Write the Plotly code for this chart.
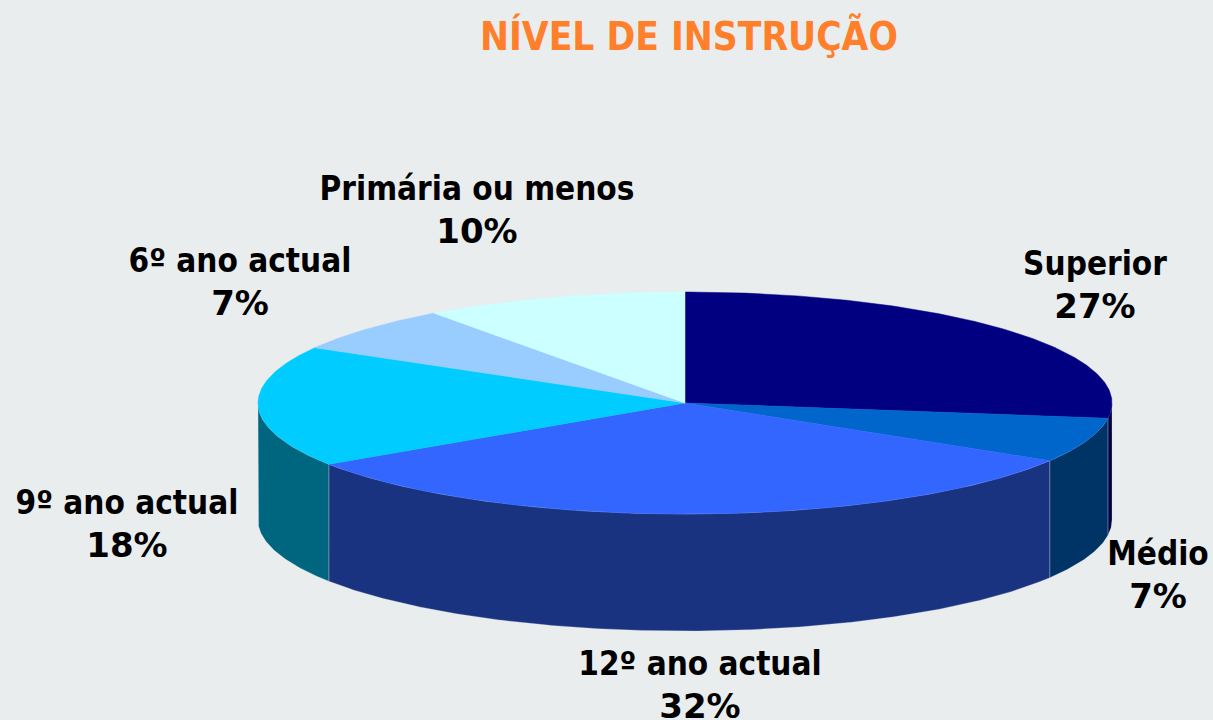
import numpy as np
import plotly.graph_objects as go

categories = ["Superior", "Médio", "12º ano actual", "9º ano actual", "6º ano actual", "Primária ou menos"]
shares = [27.2, 6.5, 32.0, 17.6, 6.7, 10.0]
percent_labels = ["27%", "7%", "32%", "18%", "7%", "10%"]
top_colors = ["#000080", "#0066CC", "#3366FF", "#00CCFF", "#99CCFF", "#CCFFFF"]
side_colors = ["#000040", "#003366", "#1A3380", "#006680", "#4D6680", "#668080"]
label_x = [1095, 1158, 700, 127, 240, 477]
label_y = [288, 578, 688, 527, 285, 213]

CX, CY, RX, RY, DEPTH = 685, 403, 427, 111, 117
BG = "#E9EDEE"
FONT = "DejaVu Sans Condensed"
EDGE = "rgba(215,225,235,0.35)"


def ellipse(a0, a1, dy=0):
    t = np.radians(np.linspace(a0, a1, max(int(abs(a1 - a0)) * 2, 2)))
    return CX + RX * np.sin(t), CY + dy - RY * np.cos(t)


fractions = np.array(shares) / sum(shares)
edges = np.concatenate([[0], np.cumsum(fractions) * 360])
fig = go.Figure()

# walls, only the front half (90..270 degrees in ellipse angle) is visible
for a0, a1, col in zip(edges[:-1], edges[1:], side_colors):
    lo, hi = max(a0, 90), min(a1, 270)
    if hi <= lo:
        continue
    xt, yt = ellipse(lo, hi)
    xb, yb = ellipse(hi, lo, DEPTH)
    fig.add_trace(go.Scatter(x=np.r_[xt, xb, xt[0]], y=np.r_[yt, yb, yt[0]], mode="lines", fill="toself",
                             fillcolor=col, line=dict(color=EDGE, width=0.8), hoverinfo="skip"))

# top faces
for a0, a1, col in zip(edges[:-1], edges[1:], top_colors):
    x, y = ellipse(a0, a1)
    fig.add_trace(go.Scatter(x=np.r_[CX, x, CX], y=np.r_[CY, y, CY], mode="lines", fill="toself",
                             fillcolor=col, line=dict(color=col, width=0.5), hoverinfo="skip"))

fig.add_trace(go.Scatter(
    x=label_x, y=label_y, mode="text",
    text=[f"{c}<br><span style=\"font-family:'DejaVu Sans';font-size:34px\">{p}</span>"
          for c, p in zip(categories, percent_labels)],
    textposition="middle center",
    textfont=dict(family=FONT, size=33, color="black", weight="bold"),
    hoverinfo="skip"))

fig.update_layout(
    width=1213, height=720, autosize=False, showlegend=False,
    paper_bgcolor=BG, plot_bgcolor=BG, margin=dict(l=0, r=0, t=0, b=0),
    xaxis=dict(range=[0, 1213], visible=False, fixedrange=True),
    yaxis=dict(range=[720, 0], visible=False, fixedrange=True),
    annotations=[dict(text="<b>NÍVEL DE INSTRUÇÃO</b>", x=689, y=36, xref="x", yref="y",
                      showarrow=False, font=dict(family=FONT, size=38.5, color="#FF7F2A"))],
)
fig.write_html("out.html", config=dict(displayModeBar=False),
               post_script="document.body.style.margin='0';document.body.style.overflow='hidden';")
